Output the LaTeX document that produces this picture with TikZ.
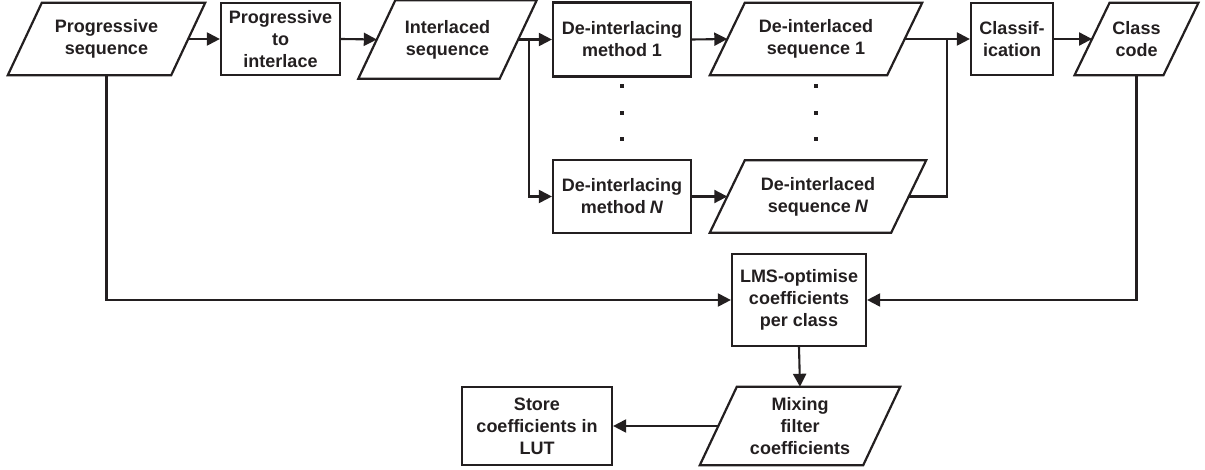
\documentclass[tikz,border=0pt]{standalone}
\usepackage{fontspec}
\setmainfont{Liberation Sans}
\usetikzlibrary{arrows.meta}
\definecolor{ink}{HTML}{231F20}
\newcommand\drawpara[2]{%
  \draw[draw=ink, line width=2.2pt, line join=miter]
    ([xshift=#2]#1.north west) -- ([xshift=#2]#1.north east) --
    ([xshift=-#2]#1.south east) -- ([xshift=-#2]#1.south west) -- cycle;}
\begin{document}
\begin{tikzpicture}[x=1pt,y=-1pt,
  every node/.style={font=\fontsize{18}{22}\selectfont\bfseries, text=ink, align=center, inner sep=0pt},
  rbox/.style 2 args={draw=ink, line width=2.2pt, rectangle, minimum width=#1, minimum height=#2},
  pbox/.style 2 args={rectangle, minimum width=#1, minimum height=#2},
  dotmark/.style={fill=ink, rectangle, minimum size=3.2pt},
  conn/.style={draw=ink, line width=2.1pt},
  arr/.style={conn, -{Triangle[length=13pt,width=13pt]}}]
\useasboundingbox (0,0) rectangle (1205,470);

% top row
\node[pbox={163pt}{72pt}] (ps) at (106.5,39) {Progressive\\sequence};
\drawpara{ps}{17pt}
\node[rbox={119pt}{72pt}] (pi) at (280.5,39) {Progressive\\to\\interlace};
\node[pbox={141pt}{78pt}] (is) at (447.5,39.5) {Interlaced\\sequence};
\drawpara{is}{18.5pt}
\node[rbox={138pt}{74pt}] (m1) at (622,39.5) {De-interlacing\\method 1};
\node[rbox={138pt}{73pt}] (mn) at (622,196.5) {De-interlacing\\method\hspace{4pt}\textit{N}};
\node[pbox={177pt}{72pt}] (ds1) at (816,39) {De-interlaced\\sequence 1};
\drawpara{ds1}{17.5pt}
\node[pbox={181pt}{72pt}] (dsn) at (818,196.5) {De-interlaced\\sequence\hspace{4pt}\textit{N}};
\drawpara{dsn}{17.5pt}
\node[rbox={82pt}{72pt}] (cl) at (1012,39) {Classif-\\ication};
\node[pbox={88.5pt}{72pt}] (cc) at (1136.5,39) {Class\\code};
\drawpara{cc}{17.5pt}

% dots
\node[dotmark] (d1) at (622,86) {};
\node[dotmark] (d2) at (622,113) {};
\node[dotmark] (d3) at (622,139) {};
\node[dotmark] (e1) at (816,86) {};
\node[dotmark] (e2) at (816,113) {};
\node[dotmark] (e3) at (816,139) {};

% lower part
\node[rbox={134pt}{92pt}] (lms) at (799,300) {LMS-optimise\\coefficients\\per class};
\node[pbox={163pt}{78pt}] (mf) at (800,426) {Mixing\\filter\\coefficients};
\drawpara{mf}{18.5pt}
\node[rbox={150pt}{78pt}] (st) at (537,426) {Store\\coefficients in\\LUT};

% connectors
\coordinate (br) at (529,39.5);
\coordinate (mg) at (947,39);
\draw[arr] (ps.east) -- (pi.west);
\draw[arr] (pi.east) -- (is.west);
\draw[arr] (is.east) -- (m1.west);
\draw[arr] (br) |- (mn.west);
\draw[arr] (m1.east) -- (ds1.west);
\draw[arr] (mn.east) -- (dsn.west);
\draw[arr] (ds1.east) -- (cl.west);
\draw[conn] (dsn.east) -| (mg);
\draw[arr] (cl.east) -- (cc.west);
\draw[arr] (ps.south) |- (lms.west);
\draw[arr] (cc.south) |- (lms.east);
\draw[arr] (lms.south) -- (mf.north);
\draw[arr] (mf.west) -- (st.east);
\end{tikzpicture}
\end{document}
